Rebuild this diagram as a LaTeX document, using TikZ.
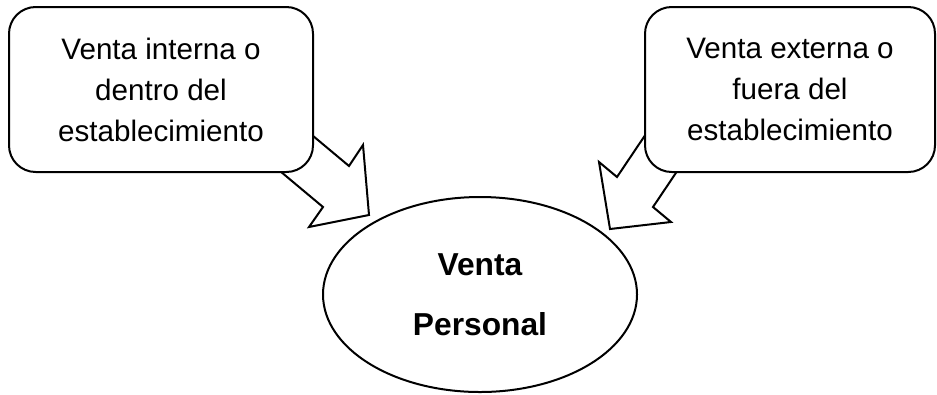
\documentclass[tikz,border=0pt]{standalone}
\usepackage{fontspec}
\setmainfont{Liberation Sans}
\usetikzlibrary{shapes.geometric}
\begin{document}
\begin{tikzpicture}[x=0.75pt,y=-0.75pt,
  line width=1.5pt, line join=miter,
  box/.style={draw, fill=white, rounded corners=20pt, inner sep=0pt,
    align=center, font=\fontsize{22.2}{30.75}\selectfont},
  blockarrow/.style={draw, fill=white},
  centre/.style={draw, fill=white, ellipse, inner sep=0pt,
    minimum width=235.5pt, minimum height=146.25pt,
    align=center, font=\bfseries\fontsize{23.8}{45}\selectfont}]
\useasboundingbox (0,0) rectangle (937,394);

% block arrow from the left box
\coordinate (la1) at (288,115);
\coordinate (la2) at (349,166);
\coordinate (la3) at (363,145);
\coordinate (la4) at (369,215);
\coordinate (la5) at (309,227);
\coordinate (la6) at (323,207);
\coordinate (la7) at (262,156);
\draw[blockarrow] (la1) -- (la2) -- (la3) -- (la4) -- (la5) -- (la6) -- (la7) -- cycle;

% block arrow from the right box
\coordinate (ra1) at (656,119);
\coordinate (ra2) at (617,177);
\coordinate (ra3) at (599,162);
\coordinate (ra4) at (610,229);
\coordinate (ra5) at (671,222);
\coordinate (ra6) at (653,207);
\coordinate (ra7) at (692,149);
\draw[blockarrow] (ra1) -- (ra2) -- (ra3) -- (ra4) -- (ra5) -- (ra6) -- (ra7) -- cycle;

% the two source boxes
\node[box, minimum width=228pt, minimum height=123.75pt] (interna) at (161,89.5)
  {Venta interna o\\dentro del\\establecimiento};
\node[box, minimum width=217.5pt, minimum height=123.75pt] (externa) at (790,89.5)
  {Venta externa o\\fuera del\\establecimiento};

% central ellipse
\node[centre] (personal) at (480,294.5) {Venta\\Personal};
\end{tikzpicture}
\end{document}
